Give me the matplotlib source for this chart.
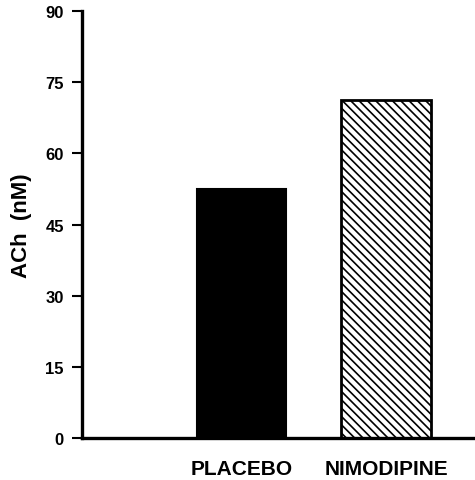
import numpy as np
import matplotlib.pyplot as plt

# ---------------------------
# Data
# ---------------------------
groups = ['PLACEBO', 'NIMODIPINE']
ach_nM = [52.5, 71.3]
y_ticks = [0, 15, 30, 45, 60, 75, 90]

plt.rcParams['font.family'] = ['Liberation Sans', 'DejaVu Sans']
plt.rcParams['font.weight'] = 'bold'
plt.rcParams['hatch.linewidth'] = 1.2

fig = plt.figure(figsize=(4.75, 4.81), dpi=100)
ax = fig.add_axes([0.1726, 0.0873, 0.8274, 0.8877])

x = np.arange(1, len(groups) + 1)
ax.bar(x[0], ach_nM[0], width=0.62, color='black', edgecolor='black', linewidth=1.5)
ax.bar(x[1], ach_nM[1], width=0.62, color='white', edgecolor='black',
       hatch='\\\\\\\\', linewidth=2)

ax.set_xlim(-0.104, 2.616)
ax.set_ylim(0, 90)
ax.set_yticks(y_ticks)
ax.set_yticklabels([str(v) for v in y_ticks], fontsize=12, fontweight='bold')
ax.set_xticks(x)
ax.set_xticklabels(groups, fontsize=15, fontweight='bold')
ax.tick_params(axis='x', length=0, pad=15)
ax.tick_params(axis='y', length=7, width=1.5, pad=6)
ax.set_ylabel('ACh  (nM)', fontsize=16, fontweight='bold', labelpad=10)

for side in ['top', 'right']:
    ax.spines[side].set_visible(False)
for side in ['left', 'bottom']:
    ax.spines[side].set_linewidth(2.4)

fig.savefig('out.png', dpi=100)
